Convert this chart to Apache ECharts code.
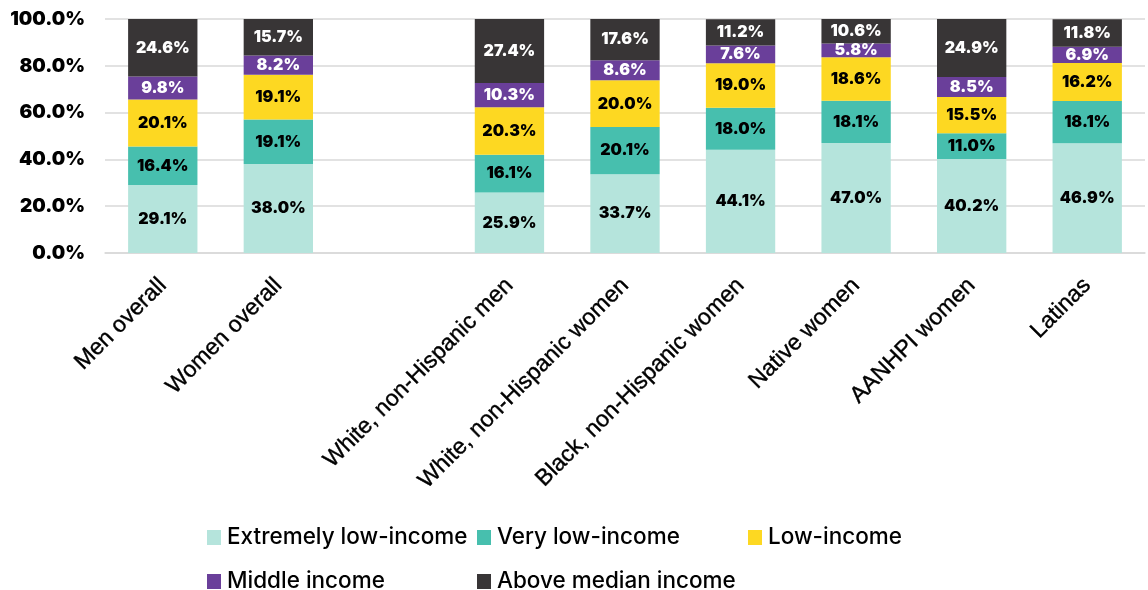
<!DOCTYPE html>
<html>
<head>
<meta charset="utf-8">
<script src="https://cdn.jsdelivr.net/npm/echarts@6/dist/echarts.min.js"></script>
<style>html,body{margin:0;padding:0;background:#fff}#c{width:1148px;height:590px}</style>
</head>
<body>
<div id="c"></div>
<script>
const categories = ['Men overall','Women overall','','White, non-Hispanic men','White, non-Hispanic women','Black, non-Hispanic women','Native women','AANHPI women','Latinas'];
const seriesNames = ['Extremely low-income','Very low-income','Low-income','Middle income','Above median income'];
const extremelyLow = [29.1, 38.0, null, 25.9, 33.7, 44.1, 47.0, 40.2, 46.9];
const veryLow      = [16.4, 19.1, null, 16.1, 20.1, 18.0, 18.1, 11.0, 18.1];
const lowIncome    = [20.1, 19.1, null, 20.3, 20.0, 19.0, 18.6, 15.5, 16.2];
const middle       = [9.8, 8.2, null, 10.3, 8.6, 7.6, 5.8, 8.5, 6.9];
const aboveMedian  = [24.6, 15.7, null, 27.4, 17.6, 11.2, 10.6, 24.9, 11.8];
const yTicks = [0, 20, 40, 60, 80, 100];

const colors = ['#b5e4dc','#47bfae','#fdd822','#6a3f9a','#383536'];
const labelColors = ['#000','#000','#000','#fff','#fff'];
const values = [extremelyLow, veryLow, lowIncome, middle, aboveMedian];

const chart = echarts.init(document.getElementById('c'));
const series = seriesNames.map((n, i) => ({
  name: n, type: 'bar', stack: 'total', barWidth: '60%',
  data: values[i],
  itemStyle: { color: colors[i] },
  label: {
    show: true, position: 'inside', color: labelColors[i],
    fontFamily: 'Inter', fontWeight: 900, fontSize: 16,
    formatter: p => p.value == null ? '' : p.value.toFixed(1) + '%'
  }
}));

const legendPos = [[207, 526], [477, 526], [748, 526], [207, 570], [477, 570]];
const legends = seriesNames.map((n, i) => ({
  data: [n], left: legendPos[i][0], top: legendPos[i][1], padding: 0,
  itemWidth: 14, itemHeight: 15, icon: 'rect',
  textStyle: { fontFamily: 'Inter', fontWeight: 500, fontSize: 22.5, color: '#000', padding: [0, 0, 0, 1] },
  selectedMode: false
}));

chart.setOption({
  animation: false,
  grid: { left: 105, right: 3, top: 19, bottom: 337 },
  legend: legends,
  xAxis: {
    type: 'category', data: categories,
    axisTick: { show: false },
    axisLine: { lineStyle: { color: '#d9d9d9', width: 1.5 } },
    axisLabel: { rotate: 45, interval: 0, fontFamily: 'Liberation Sans', fontSize: 23, color: '#000', margin: 29,
      textBorderColor: '#000', textBorderWidth: 0.4 }
  },
  yAxis: {
    type: 'value', min: 0, max: 100, interval: 20,
    axisLabel: { formatter: v => yTicks.includes(v) ? v.toFixed(1) + '%' : '', fontFamily: 'Inter', fontWeight: 900, fontSize: 19, color: '#000', margin: 20 },
    splitLine: { lineStyle: { color: '#d9d9d9', width: 1.5 } }
  },
  series: series
});
</script>
</body>
</html>
